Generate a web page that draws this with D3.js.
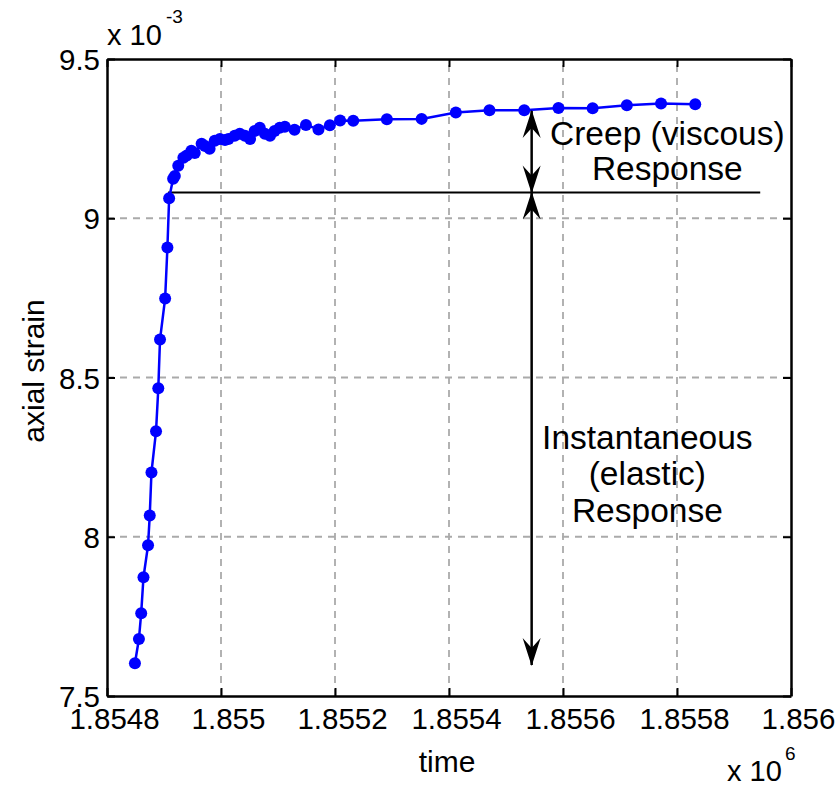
<!DOCTYPE html>
<html>
<head>
<meta charset="utf-8">
<script src="https://cdn.jsdelivr.net/npm/d3@7"></script>
<style>
  body { margin: 0; background: #fff; }
  svg { display: block; font-family: "Liberation Sans", Arial, sans-serif; }
</style>
</head>
<body>
<svg id="chart" width="839" height="788"></svg>
<script>
// time in seconds, strain raw
const time = [1854849, 1854856, 1854860, 1854864, 1854872, 1854875, 1854878, 1854886, 1854890, 1854893,
  1854902, 1854906, 1854909, 1854916, 1854919, 1854925, 1854934, 1854940, 1854948, 1854954,
  1854966, 1854972, 1854980, 1854989, 1854998, 1855007, 1855013, 1855024, 1855033, 1855042,
  1855051, 1855059, 1855068, 1855077, 1855086, 1855094, 1855103, 1855112, 1855129, 1855149,
  1855171, 1855191, 1855209, 1855232, 1855291, 1855352, 1855412, 1855471, 1855532, 1855592,
  1855652, 1855712, 1855772, 1855832];
const strain = [7.603, 7.679, 7.760, 7.873, 7.973, 8.067, 8.202, 8.331, 8.466, 8.619,
  8.748, 8.908, 9.063, 9.124, 9.133, 9.165, 9.190, 9.197, 9.212, 9.205,
  9.234, 9.227, 9.218, 9.243, 9.249, 9.246, 9.249, 9.259, 9.265, 9.259,
  9.249, 9.274, 9.284, 9.265, 9.259, 9.274, 9.284, 9.287, 9.278, 9.293,
  9.279, 9.292, 9.307, 9.306, 9.311, 9.312, 9.332, 9.339, 9.339, 9.346,
  9.345, 9.355, 9.360, 9.358].map(v => v * 1e-3);

const xTicks = [1854800, 1855000, 1855200, 1855400, 1855600, 1855800, 1856000];
const yTicks = [0.0075, 0.008, 0.0085, 0.009, 0.0095];

// annotation values
const elasticLevel = 0.009081;
const lineStart = 1854907, lineEnd = 1855946;
const arrowTime = 1855545;
const creepTop = 0.009337;
const elasticBottom = 0.007597;
const creepText = ["Creep (viscous)", "Response"];
const elasticText = ["Instantaneous", "(elastic)", "Response"];

const margin = { top: 59, right: 48, bottom: 92, left: 107 };
const W = 839, H = 788;
const svg = d3.select("#chart");

const x = d3.scaleLinear().domain([1854800, 1856000]).range([margin.left, W - margin.right]);
const y = d3.scaleLinear().domain([0.0075, 0.0095]).range([H - margin.bottom, margin.top]);

const x0 = x.range()[0], x1 = x.range()[1], y0 = y.range()[0], y1 = y.range()[1];

// grid
const grid = svg.append("g").attr("stroke", "#aaaaaa").attr("stroke-width", 1.8).attr("stroke-dasharray", "7,6");
grid.selectAll(".gx").data(xTicks.slice(1, -1)).enter().append("line")
  .attr("x1", d => x(d)).attr("x2", d => x(d)).attr("y1", y0).attr("y2", y1);
grid.selectAll(".gy").data(yTicks.slice(1, -1)).enter().append("line")
  .attr("y1", d => y(d)).attr("y2", d => y(d)).attr("x1", x0).attr("x2", x1);

// axes (ticks inside, box on)
const fx = d => d3.format(".4~f")(d / 1e6);
const fy = d => d3.format(".2~f")(d * 1e3);

const axB = svg.append("g").attr("transform", `translate(0,${y0})`)
  .call(d3.axisBottom(x).tickValues(xTicks).tickSizeInner(-8).tickSizeOuter(0).tickFormat(fx));
const axT = svg.append("g").attr("transform", `translate(0,${y1})`)
  .call(d3.axisTop(x).tickValues(xTicks).tickSizeInner(-8).tickSizeOuter(0).tickFormat(""));
const axL = svg.append("g").attr("transform", `translate(${x0},0)`)
  .call(d3.axisLeft(y).tickValues(yTicks).tickSizeInner(-8).tickSizeOuter(0).tickFormat(fy));
const axR = svg.append("g").attr("transform", `translate(${x1},0)`)
  .call(d3.axisRight(y).tickValues(yTicks).tickSizeInner(-8).tickSizeOuter(0).tickFormat(""));

[axB, axT, axL, axR].forEach(a => {
  a.select(".domain").attr("stroke", "#000").attr("stroke-width", 2.5);
  a.selectAll(".tick line").attr("stroke", "#000").attr("stroke-width", 2);
});
axB.selectAll(".tick text").attr("font-size", 29.5).attr("fill", "#000")
  .attr("dy", 0).attr("y", 33).attr("dx", 7).attr("font-family", "Liberation Sans, Arial, sans-serif");
axL.selectAll(".tick text").attr("font-size", 29.5).attr("fill", "#000")
  .attr("x", -7).attr("dy", "0.36em").attr("font-family", "Liberation Sans, Arial, sans-serif");

// exponent labels
const ex = svg.append("g").attr("fill", "#000");
ex.append("text").attr("x", 107).attr("y", 45).attr("font-size", 29).text("x 10");
ex.append("text").attr("x", 166).attr("y", 23).attr("font-size", 19).text("-3");
ex.append("text").attr("x", 727).attr("y", 781).attr("font-size", 29).text("x 10");
ex.append("text").attr("x", 785).attr("y", 760).attr("font-size", 19).text("6");

// axis titles
svg.append("text").attr("x", 447).attr("y", 772).attr("text-anchor", "middle")
  .attr("font-size", 30).text("time");
svg.append("text").attr("transform", `translate(44,371) rotate(-90)`).attr("text-anchor", "middle")
  .attr("font-size", 30).text("axial strain");

// reference line
svg.append("line").attr("x1", x(lineStart)).attr("x2", x(lineEnd))
  .attr("y1", y(elasticLevel)).attr("y2", y(elasticLevel))
  .attr("stroke", "#000").attr("stroke-width", 2);

// data line and markers
const line = d3.line().x((d, i) => x(time[i])).y(d => y(d));
svg.append("path").datum(strain).attr("d", line)
  .attr("fill", "none").attr("stroke", "#0000ff").attr("stroke-width", 2.5);
svg.selectAll(".pt").data(strain).enter().append("circle")
  .attr("cx", (d, i) => x(time[i])).attr("cy", d => y(d)).attr("r", 6).attr("fill", "#0000ff");

// arrows
const defs = svg.append("defs");
defs.append("marker").attr("id", "ah").attr("markerUnits", "userSpaceOnUse")
  .attr("markerWidth", 30).attr("markerHeight", 20).attr("refX", 27).attr("refY", 9)
  .attr("orient", "auto-start-reverse").attr("viewBox", "0 0 30 18")
  .append("path").attr("d", "M28,9 L0,0 L10,9 L0,18 Z").attr("fill", "#000");

[[elasticLevel, creepTop], [elasticLevel, elasticBottom]].forEach(([a, b]) => {
  svg.append("line").attr("x1", x(arrowTime)).attr("x2", x(arrowTime))
    .attr("y1", y(a)).attr("y2", y(b))
    .attr("stroke", "#000").attr("stroke-width", 2.5)
    .attr("marker-start", "url(#ah)").attr("marker-end", "url(#ah)");
});

// annotation text
const ann = svg.append("g").attr("font-size", 33.5).attr("text-anchor", "middle").attr("fill", "#000");
ann.selectAll(".c").data(creepText).enter().append("text")
  .attr("x", x(1855783)).attr("y", (d, i) => y(0.00923) + i * 35).text(d => d);
ann.selectAll(".e").data(elasticText).enter().append("text")
  .attr("x", x(1855748)).attr("y", (d, i) => y(0.008276) + i * 36.5).text(d => d);
</script>
</body>
</html>
